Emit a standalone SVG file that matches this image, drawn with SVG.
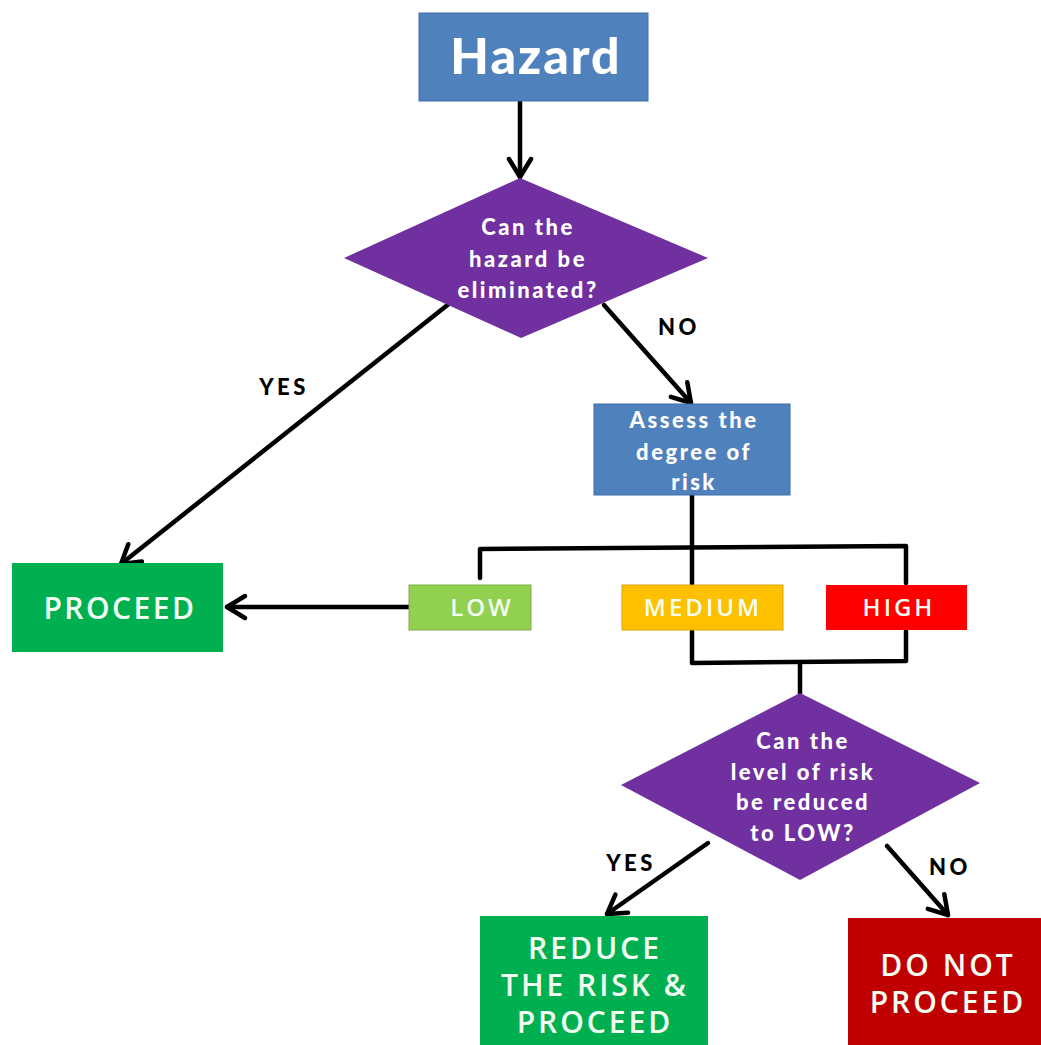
<svg xmlns="http://www.w3.org/2000/svg" width="1041" height="1045" viewBox="0 0 1041 1045">
<defs>
<marker id="arr" markerUnits="userSpaceOnUse" markerWidth="30" markerHeight="30" viewBox="0 0 30 30" refX="26" refY="15" orient="auto">
<path d="M8,4 L26,15 L8,26" fill="none" stroke="#000" stroke-width="4.5" stroke-linecap="round" stroke-linejoin="round"/>
</marker>
<style>
.t{font-family:Lato,"Open Sans","Liberation Sans",sans-serif;fill:#fff;text-anchor:middle;font-weight:900;letter-spacing:2.5px}
.n{font-family:"Open Sans",Lato,"Liberation Sans",sans-serif;fill:#f4fff4;text-anchor:middle;font-weight:600;letter-spacing:3px}
.lbl{font-family:Lato,"Liberation Sans",sans-serif;fill:#000;font-weight:900;font-size:22px;text-anchor:middle;letter-spacing:3.5px}
.c{fill:none;stroke:#000;stroke-width:4.5;stroke-linecap:round;stroke-linejoin:round}
.a{marker-end:url(#arr)}
</style>
</defs>
<rect width="1041" height="1045" fill="#fff"/>
<g id="connectors">
<line class="c a" x1="520" y1="102" x2="520" y2="177"/>
<line class="c a" x1="450" y1="303" x2="121" y2="564"/>
<line class="c a" x1="604" y1="305" x2="691" y2="403"/>
<line class="c" x1="692" y1="495" x2="692" y2="584"/>
<polyline class="c" points="480,578 480,549 906,546 906,583"/>
<line class="c a" x1="409" y1="607" x2="227" y2="607"/>
<polyline class="c" points="692,631 692,663 906,661 906,631"/>
<line class="c" x1="800" y1="663" x2="800" y2="694"/>
<line class="c a" x1="708" y1="843" x2="607" y2="914"/>
<line class="c a" x1="887" y1="846" x2="948" y2="915"/>
<text class="lbl" x="284" y="395">YES</text>
<text class="lbl" x="679" y="335">NO</text>
<text class="lbl" x="631" y="871">YES</text>
<text class="lbl" x="950" y="875">NO</text>
</g>
<g id="hazard">
<rect x="419" y="13" width="229" height="88" fill="#4F81BD" stroke="#3f6fa8" stroke-width="1"/>
<text class="t" x="536" y="74" font-size="50" style="letter-spacing:2px">Hazard</text>
</g>
<g id="decision1">
<polygon points="520,178 708,258 521,338 344,258" fill="#7030A0"/>
<text class="t" x="528" y="235" font-size="22">Can  the</text>
<text class="t" x="528" y="267" font-size="22">hazard be</text>
<text class="t" x="528" y="298" font-size="22">eliminated?</text>
</g>
<g id="assess">
<rect x="594" y="404" width="196" height="91" fill="#4F81BD" stroke="#3f6fa8" stroke-width="1"/>
<text class="t" x="694" y="428" font-size="22">Assess the</text>
<text class="t" x="694" y="460" font-size="22">degree of</text>
<text class="t" x="694" y="490" font-size="22">risk</text>
</g>
<g id="proceed">
<rect x="12" y="563" width="211" height="89" fill="#00B050"/>
<text class="n" x="120" y="619" font-size="30" style="letter-spacing:2.5px">PROCEED</text>
</g>
<g id="low">
<rect x="409" y="585" width="122" height="45" fill="#92D050" stroke="#7fae4a" stroke-width="1"/>
<text class="n" x="482" y="616" font-size="24">LOW</text>
</g>
<g id="medium">
<rect x="622" y="585" width="161" height="45" fill="#FFC000" stroke="#d9a400" stroke-width="1"/>
<text class="n" x="703" y="616" font-size="24">MEDIUM</text>
</g>
<g id="high">
<rect x="826" y="585" width="141" height="45" fill="#FF0000"/>
<text class="n" x="899" y="616" font-size="24">HIGH</text>
</g>
<g id="decision2">
<polygon points="800,693 980,783 800,880 621,785" fill="#7030A0"/>
<text class="t" x="803" y="749" font-size="22">Can  the</text>
<text class="t" x="803" y="780" font-size="22">level of risk</text>
<text class="t" x="803" y="810" font-size="22">be reduced</text>
<text class="t" x="803" y="841" font-size="22">to LOW?</text>
</g>
<g id="reduce">
<rect x="480" y="916" width="228" height="129" fill="#00B050"/>
<text class="n" x="595" y="959" font-size="30">REDUCE</text>
<text class="n" x="595" y="996" font-size="30">THE RISK &amp;</text>
<text class="n" x="595" y="1033" font-size="30">PROCEED</text>
</g>
<g id="donot">
<rect x="848" y="918" width="193" height="127" fill="#C00000"/>
<text class="n" x="948" y="976" font-size="30">DO NOT</text>
<text class="n" x="948" y="1013" font-size="30">PROCEED</text>
</g>
</svg>
